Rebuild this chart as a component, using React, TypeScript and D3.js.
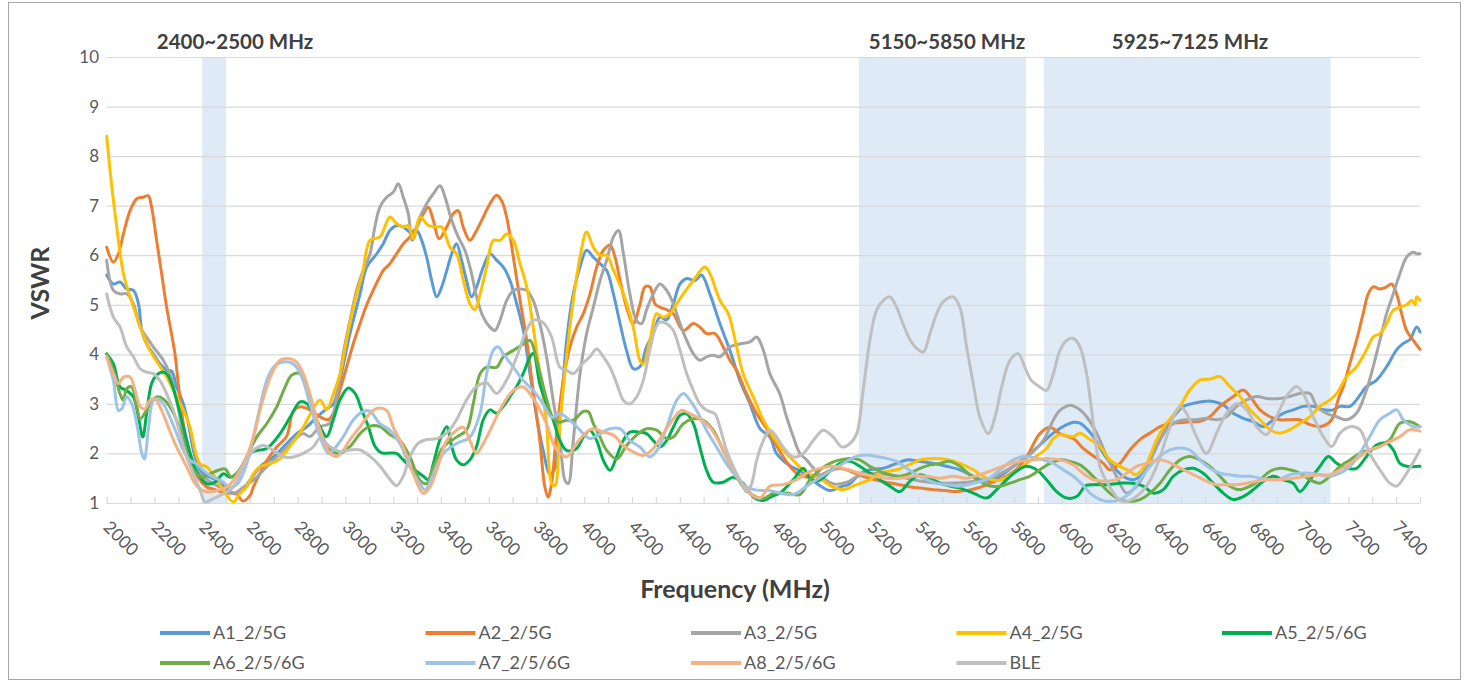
import React from "react";
import * as d3 from "d3";

type P = [number, number];

const seriesNames = ["A1_2/5G", "A2_2/5G", "A3_2/5G", "A4_2/5G", "A5_2/5/6G", "A6_2/5/6G", "A7_2/5/6G", "A8_2/5/6G", "BLE"];
const seriesColors = ["#5B9BD5", "#ED7D31", "#A5A5A5", "#FFC000", "#00B050", "#70AD47", "#9DC3E6", "#F4B183", "#BFBFBF"];

const bands: P[] = [[2400, 2500], [5150, 5850], [5925, 7125]];
const bandLabels = ["2400~2500 MHz", "5150~5850 MHz", "5925~7125 MHz"];
const bandLabelX = [235, 947, 1190];

const yTicks = [1, 2, 3, 4, 5, 6, 7, 8, 9, 10];
const xMinorTicks = d3.range(2000, 7501, 100);
const xLabelTicks = d3.range(2000, 7401, 200);

const a1: P[] = [[2000,5.6],[2028,5.42],[2056,5.46],[2084,5.32],[2112,5.29],[2133,5.02],[2147,4.48],[2167,4.21],[2195,4.01],[2223,3.81],[2251,3.68],[2272,3.66],[2293,3.34],[2321,3.0],[2342,2.6],[2363,2.06],[2384,1.73],[2405,1.59],[2433,1.52],[2461,1.46],[2496,1.32],[2530,1.19],[2560,1.22],[2600,1.46],[2642,1.73],[2698,1.93],[2754,2.2],[2796,2.4],[2837,2.53],[2879,2.73],[2921,2.9],[2949,3.0],[2977,3.48],[3019,4.42],[3061,5.22],[3089,5.76],[3131,6.03],[3158,6.23],[3186,6.5],[3214,6.6],[3242,6.57],[3270,6.47],[3298,6.5],[3319,6.3],[3340,5.96],[3361,5.49],[3382,5.16],[3403,5.36],[3424,5.69],[3445,6.03],[3465,6.23],[3486,5.9],[3507,5.49],[3528,5.16],[3549,5.36],[3577,5.76],[3605,6.03],[3633,5.9],[3661,5.76],[3689,5.49],[3717,5.02],[3745,4.48],[3773,3.6],[3801,2.73],[3828,2.06],[3856,1.59],[3877,1.7],[3898,2.6],[3926,4.28],[3954,5.22],[3982,5.76],[4010,6.1],[4038,5.96],[4066,5.83],[4094,5.69],[4122,5.22],[4150,4.62],[4177,4.08],[4205,3.71],[4233,3.75],[4261,4.15],[4289,4.42],[4317,4.75],[4345,4.7],[4373,5.02],[4401,5.42],[4429,5.53],[4464,5.49],[4491,5.6],[4526,5.22],[4568,4.62],[4610,4.08],[4652,3.47],[4694,3.0],[4736,2.5],[4778,2.33],[4805,2.0],[4861,1.75],[4903,1.65],[4945,1.5],[4987,1.35],[5029,1.25],[5071,1.32],[5113,1.39],[5155,1.59],[5196,1.67],[5252,1.7],[5308,1.8],[5350,1.87],[5406,1.84],[5462,1.8],[5517,1.74],[5573,1.67],[5629,1.54],[5685,1.44],[5741,1.54],[5797,1.74],[5852,1.94],[5908,2.17],[5964,2.41],[6020,2.58],[6048,2.63],[6076,2.61],[6104,2.5],[6132,2.34],[6174,2.0],[6215,1.74],[6257,1.54],[6299,1.47],[6341,1.6],[6383,2.0],[6425,2.41],[6467,2.74],[6509,2.95],[6550,3.01],[6592,3.05],[6634,3.05],[6676,2.98],[6718,2.81],[6760,2.71],[6802,2.64],[6844,2.54],[6885,2.68],[6927,2.81],[6969,2.88],[7011,2.95],[7053,2.95],[7095,2.88],[7137,2.88],[7165,2.95],[7207,2.95],[7234,3.08],[7276,3.35],[7318,3.48],[7360,3.75],[7402,4.09],[7430,4.22],[7458,4.3],[7486,4.55],[7500,4.45]];

const a2: P[] = [[2000,6.16],[2028,5.86],[2049,6.03],[2070,6.43],[2098,6.9],[2126,7.14],[2153,7.17],[2174,7.2],[2188,6.97],[2209,6.3],[2230,5.63],[2251,4.95],[2272,4.4],[2286,4.0],[2300,3.4],[2321,2.6],[2342,2.13],[2363,1.8],[2385,1.5],[2420,1.32],[2460,1.26],[2500,1.2],[2540,1.2],[2570,1.04],[2600,1.15],[2614,1.32],[2642,1.6],[2670,1.85],[2712,2.13],[2754,2.35],[2781,2.85],[2809,2.94],[2851,2.88],[2893,2.74],[2928,2.68],[2949,2.81],[2977,3.28],[3005,3.75],[3033,4.22],[3061,4.62],[3089,5.0],[3117,5.3],[3158,5.69],[3186,5.83],[3214,6.03],[3242,6.23],[3270,6.37],[3298,6.57],[3326,6.84],[3347,6.97],[3368,6.7],[3392,6.33],[3424,6.57],[3452,6.84],[3472,6.9],[3493,6.57],[3521,6.3],[3549,6.5],[3577,6.77],[3605,7.04],[3633,7.21],[3654,7.1],[3675,6.77],[3703,5.96],[3731,5.09],[3759,4.28],[3786,3.27],[3814,2.26],[3835,1.32],[3849,1.12],[3863,1.39],[3884,2.4],[3912,3.47],[3940,4.15],[3968,4.55],[3996,4.82],[4024,5.22],[4052,5.76],[4080,6.1],[4108,6.2],[4129,5.96],[4150,5.49],[4177,4.95],[4205,4.62],[4233,5.0],[4254,5.36],[4275,5.36],[4296,5.02],[4317,4.95],[4345,4.9],[4373,4.82],[4415,4.48],[4457,4.62],[4484,4.55],[4512,4.42],[4547,4.42],[4582,4.15],[4610,3.88],[4638,3.68],[4680,3.2],[4722,2.8],[4764,2.5],[4806,2.15],[4847,1.83],[4889,1.6],[4931,1.52],[4980,1.55],[5030,1.65],[5070,1.7],[5110,1.65],[5160,1.55],[5210,1.48],[5260,1.42],[5310,1.38],[5360,1.33],[5410,1.3],[5460,1.27],[5510,1.25],[5560,1.23],[5610,1.26],[5660,1.32],[5710,1.42],[5760,1.52],[5810,1.68],[5852,1.93],[5908,2.4],[5950,2.53],[5992,2.4],[6048,2.3],[6090,2.1],[6132,1.95],[6174,1.8],[6201,1.67],[6243,1.8],[6285,2.07],[6327,2.28],[6369,2.41],[6411,2.54],[6453,2.61],[6494,2.62],[6536,2.64],[6578,2.65],[6620,2.74],[6662,2.95],[6718,3.15],[6760,3.28],[6788,3.15],[6830,2.88],[6872,2.74],[6913,2.68],[6955,2.68],[6997,2.68],[7039,2.58],[7081,2.54],[7116,2.61],[7137,2.74],[7158,3.1],[7179,3.35],[7206,3.81],[7234,4.28],[7262,4.82],[7283,5.22],[7304,5.36],[7332,5.32],[7360,5.36],[7381,5.42],[7402,5.22],[7423,4.82],[7444,4.48],[7472,4.28],[7500,4.1]];

const a3: P[] = [[2000,5.9],[2028,5.29],[2056,5.22],[2084,5.22],[2112,5.02],[2140,4.55],[2167,4.35],[2195,4.15],[2237,3.88],[2265,3.6],[2293,3.07],[2321,2.4],[2349,1.93],[2377,1.66],[2405,1.52],[2447,1.39],[2489,1.29],[2530,1.19],[2572,1.32],[2614,1.46],[2656,1.66],[2698,1.86],[2740,2.06],[2782,2.26],[2823,2.4],[2851,2.34],[2893,2.54],[2935,2.61],[2963,3.15],[2991,4.02],[3019,4.69],[3047,5.3],[3075,5.7],[3103,6.03],[3123,6.57],[3144,6.97],[3172,7.17],[3200,7.27],[3221,7.44],[3242,7.17],[3263,6.84],[3280,6.3],[3312,6.77],[3340,7.04],[3368,7.24],[3396,7.4],[3417,7.17],[3445,6.7],[3472,6.37],[3500,6.1],[3528,5.63],[3549,5.16],[3577,4.75],[3605,4.55],[3626,4.48],[3647,4.68],[3675,5.09],[3703,5.29],[3731,5.32],[3759,5.29],[3786,5.09],[3814,4.62],[3842,3.95],[3870,3.07],[3898,2.26],[3919,1.46],[3933,1.39],[3954,2.26],[3982,3.6],[4010,4.42],[4038,4.95],[4066,5.49],[4094,5.9],[4122,6.37],[4143,6.5],[4164,6.03],[4191,5.22],[4219,4.68],[4240,4.62],[4261,4.9],[4289,5.22],[4317,5.42],[4345,5.29],[4373,5.02],[4401,4.62],[4429,4.28],[4457,4.01],[4484,3.88],[4512,3.95],[4540,3.98],[4568,3.95],[4610,4.15],[4652,4.21],[4694,4.25],[4722,4.35],[4750,4.08],[4778,3.6],[4819,3.2],[4847,2.74],[4875,2.34],[4903,2.0],[4931,1.87],[4960,1.7],[5000,1.5],[5050,1.38],[5100,1.42],[5150,1.55],[5200,1.6],[5300,1.55],[5400,1.45],[5500,1.4],[5600,1.42],[5700,1.5],[5800,1.75],[5860,1.95],[5922,2.26],[5964,2.67],[5992,2.87],[6034,2.97],[6076,2.88],[6104,2.74],[6146,2.41],[6188,1.94],[6229,1.54],[6271,1.2],[6313,1.34],[6355,1.67],[6397,2.14],[6439,2.48],[6481,2.64],[6523,2.68],[6564,2.68],[6606,2.71],[6648,2.68],[6690,2.74],[6732,2.95],[6774,3.08],[6816,3.15],[6857,3.11],[6913,3.11],[6955,3.15],[6997,3.21],[7039,3.21],[7067,2.95],[7109,2.81],[7151,2.74],[7193,2.68],[7234,2.81],[7276,3.28],[7304,3.75],[7332,4.28],[7360,4.82],[7388,5.22],[7416,5.63],[7444,5.96],[7472,6.06],[7486,6.03],[7500,6.03]];

const a4: P[] = [[2000,8.4],[2021,7.4],[2042,6.57],[2070,5.63],[2098,5.16],[2126,4.75],[2146,4.48],[2181,4.08],[2216,3.81],[2251,3.54],[2293,3.14],[2328,2.8],[2349,2.53],[2370,2.06],[2391,1.79],[2419,1.73],[2454,1.52],[2488,1.26],[2530,1.02],[2558,1.19],[2586,1.32],[2614,1.59],[2642,1.73],[2684,1.79],[2726,1.89],[2754,2.06],[2796,2.33],[2823,2.53],[2851,2.78],[2893,3.08],[2921,2.88],[2949,3.2],[2977,3.6],[3005,4.3],[3040,5.1],[3070,5.6],[3103,6.3],[3144,6.37],[3186,6.77],[3214,6.64],[3242,6.57],[3263,6.6],[3284,6.33],[3312,6.77],[3347,6.6],[3382,6.57],[3403,6.57],[3438,6.16],[3465,6.03],[3493,5.5],[3521,5.02],[3542,4.9],[3563,5.2],[3591,5.76],[3619,6.3],[3647,6.3],[3675,6.43],[3703,6.3],[3731,5.83],[3759,5.36],[3786,4.55],[3814,3.6],[3842,2.6],[3863,1.4],[3877,1.35],[3898,2.6],[3926,3.95],[3954,5.09],[3982,5.96],[4010,6.47],[4038,6.16],[4066,6.0],[4094,6.0],[4122,5.7],[4164,5.22],[4205,4.55],[4233,3.88],[4247,3.8],[4275,4.28],[4303,4.82],[4331,4.75],[4359,4.82],[4387,5.02],[4415,5.22],[4457,5.49],[4505,5.76],[4526,5.63],[4568,5.09],[4603,4.82],[4638,4.15],[4666,3.6],[4708,3.14],[4750,2.67],[4792,2.33],[4833,2.06],[4875,1.86],[4917,1.66],[4945,1.58],[5001,1.45],[5043,1.32],[5085,1.27],[5140,1.37],[5196,1.47],[5238,1.6],[5308,1.67],[5364,1.78],[5406,1.87],[5462,1.9],[5517,1.88],[5573,1.8],[5629,1.67],[5685,1.5],[5741,1.46],[5797,1.6],[5852,1.8],[5894,1.95],[5936,2.1],[5964,2.3],[5992,2.38],[6048,2.34],[6076,2.41],[6118,2.28],[6160,2.14],[6201,1.87],[6243,1.74],[6285,1.64],[6310,1.57],[6355,1.8],[6397,2.28],[6439,2.61],[6495,2.95],[6536,3.28],[6578,3.48],[6620,3.5],[6662,3.55],[6704,3.35],[6746,3.15],[6788,2.88],[6830,2.68],[6872,2.48],[6913,2.41],[6955,2.48],[6997,2.61],[7039,2.74],[7081,2.95],[7123,3.08],[7151,3.21],[7193,3.55],[7234,3.75],[7276,4.09],[7304,4.35],[7332,4.42],[7360,4.62],[7388,4.89],[7416,4.95],[7444,5.0],[7465,5.09],[7479,5.0],[7486,5.16],[7500,5.09]];

const a5: P[] = [[2000,4.01],[2028,3.81],[2056,3.34],[2084,3.27],[2112,3.14],[2133,2.73],[2151,2.33],[2167,2.8],[2188,3.41],[2209,3.58],[2230,3.64],[2251,3.61],[2272,3.41],[2293,3.07],[2314,2.67],[2335,2.26],[2363,1.79],[2391,1.52],[2419,1.39],[2454,1.42],[2489,1.59],[2516,1.52],[2545,1.6],[2572,1.79],[2600,2.0],[2628,2.06],[2670,2.1],[2726,2.4],[2768,2.73],[2810,3.04],[2837,3.01],[2865,2.81],[2893,2.54],[2921,2.34],[2949,2.68],[2977,3.08],[3012,3.32],[3040,3.21],[3068,2.88],[3096,2.54],[3124,2.14],[3152,2.01],[3187,2.01],[3214,2.0],[3242,1.87],[3270,1.74],[3298,1.64],[3326,1.54],[3347,1.47],[3368,1.8],[3396,2.28],[3424,2.54],[3445,2.14],[3465,1.87],[3493,1.77],[3521,1.87],[3549,2.14],[3577,2.68],[3605,2.88],[3633,2.81],[3661,2.95],[3689,3.15],[3717,3.35],[3745,3.62],[3773,3.95],[3787,4.02],[3814,3.4],[3842,3.0],[3870,2.67],[3898,2.26],[3926,2.06],[3968,2.1],[3996,2.33],[4024,2.47],[4052,2.26],[4080,1.86],[4108,1.66],[4135,1.93],[4163,2.26],[4191,2.43],[4233,2.43],[4261,2.4],[4289,2.26],[4317,2.13],[4345,2.26],[4373,2.53],[4401,2.77],[4429,2.8],[4457,2.6],[4484,2.13],[4512,1.66],[4540,1.42],[4582,1.42],[4624,1.52],[4666,1.39],[4708,1.12],[4750,1.05],[4792,1.15],[4819,1.2],[4875,1.47],[4917,1.7],[4945,1.5],[4980,1.45],[5029,1.64],[5071,1.8],[5113,1.84],[5154,1.74],[5196,1.6],[5238,1.47],[5280,1.34],[5322,1.23],[5364,1.44],[5406,1.57],[5448,1.5],[5490,1.4],[5531,1.34],[5573,1.3],[5629,1.2],[5685,1.1],[5727,1.27],[5769,1.47],[5810,1.64],[5852,1.74],[5894,1.67],[5936,1.47],[5978,1.23],[6020,1.1],[6062,1.13],[6100,1.35],[6132,1.37],[6188,1.37],[6243,1.4],[6299,1.4],[6341,1.34],[6383,1.2],[6425,1.27],[6467,1.54],[6509,1.67],[6550,1.7],[6592,1.6],[6634,1.4],[6676,1.2],[6718,1.07],[6760,1.13],[6802,1.27],[6844,1.44],[6885,1.54],[6927,1.47],[6969,1.4],[6997,1.23],[7039,1.47],[7081,1.74],[7116,1.94],[7151,1.8],[7193,1.7],[7234,1.7],[7276,1.94],[7318,2.17],[7360,2.21],[7388,2.07],[7416,1.8],[7444,1.74],[7500,1.74]];

const a6: P[] = [[2000,4.01],[2028,3.68],[2056,3.2],[2070,3.07],[2084,3.31],[2105,3.34],[2126,2.94],[2140,2.7],[2167,2.87],[2188,3.04],[2209,3.14],[2237,3.1],[2265,2.94],[2293,2.67],[2321,2.26],[2349,1.79],[2377,1.59],[2405,1.52],[2433,1.59],[2467,1.66],[2495,1.69],[2523,1.52],[2555,1.65],[2586,1.93],[2628,2.33],[2670,2.6],[2712,2.94],[2747,3.34],[2775,3.58],[2810,3.61],[2838,3.3],[2865,2.9],[2893,2.48],[2935,2.07],[2977,2.0],[3019,2.14],[3061,2.4],[3103,2.55],[3145,2.54],[3186,2.38],[3228,2.26],[3270,1.93],[3312,1.46],[3340,1.39],[3368,1.73],[3410,2.13],[3465,2.33],[3507,2.47],[3535,3.0],[3563,3.6],[3591,3.74],[3633,3.74],[3661,3.95],[3703,4.08],[3745,4.21],[3773,4.28],[3801,3.88],[3842,3.1],[3870,2.7],[3898,2.63],[3926,2.67],[3954,2.67],[3996,2.85],[4017,2.84],[4038,2.6],[4066,2.33],[4094,2.06],[4136,1.89],[4177,2.16],[4219,2.37],[4261,2.5],[4303,2.47],[4345,2.3],[4373,2.33],[4415,2.6],[4457,2.7],[4498,2.67],[4540,2.47],[4582,2.06],[4624,1.66],[4666,1.32],[4708,1.15],[4750,1.09],[4792,1.2],[4847,1.2],[4903,1.17],[4945,1.47],[4987,1.67],[5029,1.8],[5071,1.87],[5113,1.9],[5154,1.87],[5196,1.74],[5238,1.64],[5280,1.57],[5322,1.54],[5364,1.6],[5406,1.7],[5448,1.77],[5490,1.8],[5531,1.84],[5573,1.74],[5615,1.57],[5657,1.44],[5699,1.34],[5741,1.34],[5783,1.4],[5824,1.47],[5866,1.54],[5908,1.67],[5950,1.8],[5992,1.87],[6034,1.84],[6076,1.77],[6118,1.6],[6160,1.4],[6201,1.2],[6243,1.07],[6285,1.03],[6327,1.07],[6369,1.2],[6411,1.4],[6453,1.67],[6495,1.87],[6536,1.94],[6578,1.87],[6620,1.74],[6662,1.54],[6704,1.34],[6746,1.27],[6788,1.34],[6830,1.47],[6872,1.64],[6913,1.7],[6955,1.67],[6997,1.6],[7039,1.47],[7081,1.4],[7123,1.54],[7165,1.74],[7207,1.87],[7248,2.0],[7290,2.07],[7332,2.14],[7374,2.28],[7416,2.61],[7458,2.64],[7500,2.54]];

const a7: P[] = [[2000,3.95],[2028,3.47],[2049,2.87],[2063,2.9],[2084,3.14],[2105,3.0],[2126,2.6],[2147,2.0],[2158,1.89],[2174,2.47],[2195,3.07],[2216,3.1],[2237,3.0],[2265,2.73],[2293,2.4],[2321,2.06],[2349,1.86],[2377,1.79],[2405,1.66],[2433,1.56],[2460,1.49],[2488,1.42],[2516,1.32],[2550,1.4],[2586,1.79],[2614,2.33],[2642,2.94],[2670,3.47],[2698,3.74],[2733,3.84],[2768,3.84],[2796,3.74],[2824,3.45],[2851,3.0],[2893,2.34],[2928,2.0],[2949,2.07],[2991,2.34],[3033,2.68],[3075,2.85],[3103,2.85],[3144,2.6],[3186,2.47],[3228,2.2],[3270,1.73],[3312,1.39],[3333,1.26],[3368,1.59],[3410,2.0],[3465,2.2],[3521,2.33],[3563,2.8],[3591,3.6],[3619,4.08],[3640,4.15],[3661,4.01],[3703,3.74],[3745,3.47],[3786,3.27],[3828,3.0],[3863,2.73],[3898,2.8],[3940,2.67],[3982,2.47],[4024,2.3],[4066,2.4],[4108,2.5],[4150,2.5],[4191,2.26],[4233,2.13],[4275,1.93],[4310,2.1],[4345,2.53],[4387,3.07],[4415,3.21],[4443,3.07],[4470,2.87],[4512,2.47],[4554,2.13],[4596,1.79],[4638,1.52],[4680,1.32],[4722,1.26],[4778,1.25],[4819,1.2],[4875,1.17],[4931,1.34],[4973,1.47],[5015,1.6],[5057,1.72],[5099,1.84],[5140,1.94],[5182,1.97],[5224,1.94],[5266,1.9],[5308,1.84],[5350,1.7],[5392,1.57],[5434,1.47],[5475,1.4],[5517,1.37],[5573,1.34],[5629,1.4],[5685,1.47],[5741,1.67],[5797,1.87],[5838,1.94],[5880,1.92],[5922,1.87],[5964,1.8],[6006,1.67],[6048,1.54],[6090,1.35],[6118,1.2],[6160,1.07],[6201,1.03],[6243,1.07],[6285,1.2],[6327,1.47],[6369,1.74],[6411,1.94],[6453,2.07],[6495,2.11],[6536,2.07],[6578,1.87],[6620,1.7],[6662,1.6],[6704,1.57],[6746,1.54],[6788,1.54],[6830,1.5],[6872,1.47],[6913,1.48],[6955,1.57],[6997,1.6],[7039,1.6],[7081,1.57],[7123,1.54],[7165,1.6],[7207,1.74],[7248,2.0],[7290,2.34],[7332,2.68],[7374,2.81],[7402,2.88],[7430,2.68],[7472,2.54],[7500,2.54]];

const a8: P[] = [[2000,3.95],[2028,3.61],[2049,3.41],[2070,3.54],[2098,3.54],[2119,3.27],[2140,2.94],[2160,2.9],[2181,3.07],[2202,3.1],[2230,2.87],[2258,2.53],[2286,2.2],[2314,1.93],[2342,1.66],[2370,1.39],[2398,1.26],[2433,1.22],[2467,1.26],[2502,1.32],[2530,1.45],[2558,1.66],[2586,1.93],[2614,2.33],[2642,2.87],[2670,3.34],[2698,3.68],[2726,3.88],[2768,3.91],[2796,3.84],[2823,3.61],[2851,3.2],[2893,2.48],[2935,2.0],[2963,1.94],[2991,2.07],[3019,2.28],[3061,2.54],[3103,2.81],[3131,2.91],[3172,2.87],[3200,2.53],[3242,2.13],[3284,1.59],[3326,1.19],[3354,1.32],[3382,1.66],[3424,2.26],[3465,2.47],[3493,2.53],[3521,2.26],[3549,2.0],[3577,2.2],[3619,2.6],[3661,3.0],[3703,3.27],[3745,3.34],[3773,3.2],[3801,3.0],[3842,2.6],[3870,2.2],[3898,2.0],[3926,1.93],[3968,2.2],[4010,2.43],[4038,2.5],[4080,2.43],[4122,2.37],[4163,2.16],[4205,2.03],[4247,1.96],[4289,2.1],[4331,2.4],[4373,2.7],[4408,2.87],[4443,2.8],[4484,2.7],[4526,2.53],[4568,2.2],[4610,1.79],[4652,1.46],[4694,1.19],[4736,1.1],[4778,1.34],[4833,1.37],[4889,1.47],[4945,1.64],[4987,1.7],[5043,1.74],[5099,1.68],[5154,1.6],[5210,1.54],[5266,1.5],[5322,1.5],[5378,1.54],[5434,1.54],[5490,1.5],[5545,1.54],[5601,1.5],[5657,1.57],[5713,1.67],[5769,1.77],[5824,1.84],[5880,1.87],[5936,1.9],[5992,1.87],[6048,1.77],[6076,1.65],[6132,1.47],[6188,1.44],[6229,1.47],[6271,1.6],[6313,1.74],[6355,1.8],[6397,1.87],[6439,1.84],[6481,1.74],[6522,1.64],[6564,1.54],[6606,1.44],[6648,1.37],[6690,1.37],[6732,1.37],[6774,1.4],[6816,1.44],[6857,1.47],[6913,1.47],[6969,1.5],[7025,1.54],[7081,1.57],[7123,1.57],[7165,1.67],[7207,1.8],[7248,1.94],[7290,2.07],[7332,2.14],[7374,2.24],[7416,2.34],[7458,2.48],[7500,2.45]];

const ble: P[] = [[2000,5.22],[2028,4.75],[2056,4.55],[2084,4.15],[2112,3.95],[2140,3.71],[2167,3.64],[2195,3.61],[2223,3.47],[2251,3.2],[2279,2.87],[2307,2.4],[2335,1.93],[2363,1.59],[2391,1.26],[2412,1.02],[2447,1.09],[2489,1.19],[2530,1.32],[2572,1.73],[2614,2.06],[2656,2.16],[2698,2.06],[2740,1.93],[2782,1.93],[2823,2.0],[2865,2.13],[2893,2.3],[2935,2.14],[2977,2.04],[3019,2.07],[3061,2.07],[3103,1.94],[3145,1.74],[3187,1.47],[3214,1.35],[3242,1.54],[3270,1.94],[3305,2.21],[3340,2.28],[3382,2.3],[3424,2.41],[3465,2.68],[3507,3.08],[3549,3.35],[3591,3.42],[3633,3.21],[3675,3.48],[3717,3.95],[3759,4.49],[3787,4.69],[3828,4.64],[3863,4.35],[3898,3.74],[3926,3.68],[3954,3.61],[3990,3.8],[4024,3.95],[4052,4.11],[4080,3.95],[4108,3.74],[4136,3.41],[4164,3.07],[4191,3.0],[4219,3.14],[4247,3.47],[4275,4.1],[4300,4.55],[4317,4.65],[4345,4.62],[4373,4.48],[4401,4.08],[4429,3.61],[4457,3.27],[4484,3.0],[4512,2.87],[4547,2.8],[4568,2.53],[4596,2.06],[4624,1.73],[4652,1.46],[4680,1.22],[4701,1.39],[4722,1.86],[4750,2.26],[4778,2.47],[4806,2.33],[4833,2.13],[4875,1.93],[4917,2.0],[4959,2.26],[5001,2.47],[5043,2.33],[5078,2.13],[5113,2.2],[5141,2.4],[5168,3.27],[5196,4.28],[5224,4.89],[5252,5.09],[5280,5.16],[5308,4.95],[5336,4.6],[5364,4.3],[5392,4.12],[5420,4.05],[5448,4.42],[5476,4.82],[5503,5.06],[5545,5.16],[5573,4.95],[5601,4.15],[5629,3.41],[5657,2.73],[5692,2.4],[5720,2.73],[5748,3.34],[5783,3.88],[5818,4.01],[5845,3.74],[5873,3.47],[5908,3.34],[5936,3.27],[5964,3.6],[5992,4.08],[6020,4.28],[6048,4.32],[6076,4.15],[6104,3.6],[6132,2.6],[6160,1.73],[6201,1.32],[6243,1.05],[6271,1.03],[6313,1.13],[6355,1.34],[6397,1.74],[6439,2.34],[6474,2.81],[6495,2.95],[6522,2.81],[6564,2.34],[6606,2.0],[6648,2.41],[6690,2.81],[6732,3.01],[6774,2.88],[6816,2.54],[6857,2.38],[6899,2.74],[6941,3.15],[6983,3.35],[7011,3.21],[7053,2.74],[7095,2.34],[7130,2.14],[7165,2.41],[7207,2.54],[7248,2.48],[7290,2.0],[7332,1.67],[7374,1.4],[7402,1.34],[7444,1.6],[7500,2.07]];

const seriesData: P[][] = [a1, a2, a3, a4, a5, a6, a7, a8, ble];

const W = 1466;
const H = 683;
const FONT = "Lato, 'Open Sans', sans-serif";

export default function App() {
  const x = d3.scaleLinear().domain([2000, 7500]).range([106.7, 1420]);
  const y = d3.scaleLinear().domain([1, 10]).range([503, 57]);
  const line = d3
    .line<P>()
    .x((d) => x(d[0]))
    .y((d) => y(d[1]))
    .curve(d3.curveCatmullRom.alpha(0.5));

  return (
    <svg
      width={W}
      height={H}
      style={{ position: "absolute", left: 0, top: 0, background: "#fff" }}
      fontFamily={FONT}
    >
      <rect x={0} y={0} width={W} height={H} fill="#fff" />
      <rect x={8.5} y={2.5} width={1452} height={677} fill="none" stroke="#A6A6A6" strokeWidth={1} />

      {bands.map((b, i) => (
        <rect key={"b" + i} x={x(b[0])} y={y(10)} width={x(b[1]) - x(b[0])} height={y(1) - y(10)} fill="#DEEBF7" />
      ))}

      {yTicks.map((t) => (
        <line key={"g" + t} x1={x(2000)} x2={x(7500)} y1={y(t) + 0.5} y2={y(t) + 0.5} stroke="#D9D9D9" strokeWidth={1.2} />
      ))}
      {xMinorTicks.map((t) => (
        <line key={"t" + t} x1={x(t) + 0.5} x2={x(t) + 0.5} y1={y(1) - 6} y2={y(1) + 0.5} stroke="#D9D9D9" strokeWidth={1.2} />
      ))}

      {yTicks.map((t) => (
        <text key={"yl" + t} x={99} y={y(t)} dy="0.35em" textAnchor="end" fontSize={17} fill="#595959">
          {t}
        </text>
      ))}
      {xLabelTicks.map((t) => (
        <text
          key={"xl" + t}
          transform={`translate(${x(t)},${524}) rotate(45)`}
          textAnchor="start"
          dy="0.35em"
          fontSize={17.5}
          fill="#595959"
        >
          {t}
        </text>
      ))}

      {bandLabels.map((s, i) => (
        <text key={"bl" + i} x={bandLabelX[i]} y={49} textAnchor="middle" fontSize={20.5} fontWeight="bold" fill="#404040">
          {s}
        </text>
      ))}

      <g fill="none" strokeWidth={3} strokeLinejoin="round" strokeLinecap="round">
        {seriesData.map((d, i) => (
          <path key={"s" + i} d={line(d) || ""} stroke={seriesColors[i]} />
        ))}
      </g>

      <text x={735} y={598} textAnchor="middle" fontSize={25} fontWeight="bold" fill="#404040">
        Frequency (MHz)
      </text>
      <text transform="translate(49,283) rotate(-90)" textAnchor="middle" fontSize={25} fontWeight="bold" fill="#404040">
        VSWR
      </text>

      {seriesNames.map((n, i) => {
        const col = i % 5;
        const row = Math.floor(i / 5);
        const lx = 160 + col * 265.5;
        const ly = 633 + row * 30;
        return (
          <g key={"lg" + i}>
            <line x1={lx} x2={lx + 50} y1={ly} y2={ly} stroke={seriesColors[i]} strokeWidth={4} />
            <text x={lx + 53} y={ly} dy="0.35em" fontSize={18} fill="#595959">
              {n}
            </text>
          </g>
        );
      })}
    </svg>
  );
}
